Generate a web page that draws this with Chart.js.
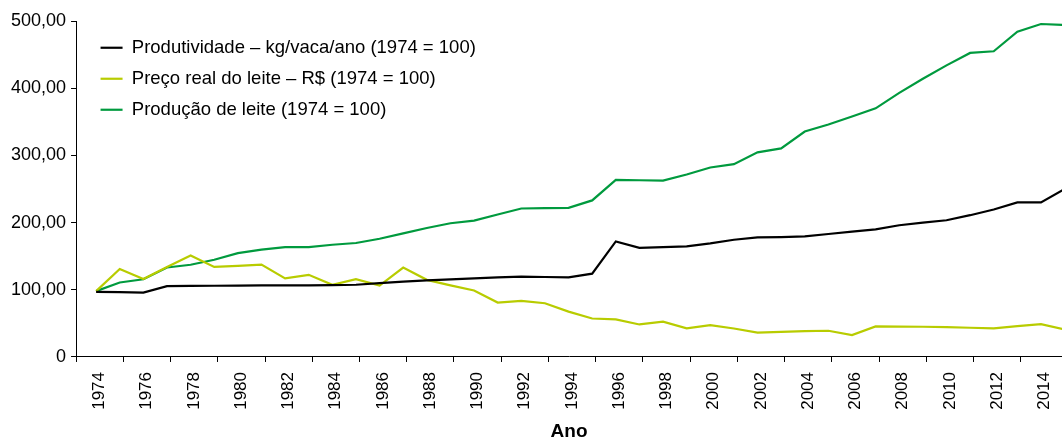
<!DOCTYPE html>
<html>
<head>
<meta charset="utf-8">
<script src="https://cdn.jsdelivr.net/npm/chart.js@4.4.1/dist/chart.umd.min.js"></script>
<style>
  html, body { margin: 0; padding: 0; background: #ffffff; overflow: hidden; }
  #wrap { width: 1062px; height: 439px; }
</style>
</head>
<body>
<div id="wrap"><canvas id="c" width="1062" height="439"></canvas></div>
<script>
// ---- data ----
const years = [1974, 1975, 1976, 1977, 1978, 1979, 1980, 1981, 1982, 1983,
               1984, 1985, 1986, 1987, 1988, 1989, 1990, 1991, 1992, 1993,
               1994, 1995, 1996, 1997, 1998, 1999, 2000, 2001, 2002, 2003,
               2004, 2005, 2006, 2007, 2008, 2009, 2010, 2011, 2012, 2013,
               2014, 2015];

const produtividade = [97, 96.5, 95.8, 105.5, 105.8, 106, 106.2, 106.5, 106.5, 106.5,
                       106.8, 107.5, 110, 112, 114, 115.5, 117, 118.5, 119.5, 119,
                       118.5, 124, 172, 162.5, 163.5, 164.5, 169, 174.5, 178, 178.5,
                       179.5, 183, 186.5, 190, 196, 200, 203.5, 211, 219.5, 230,
                       230, 250];

const precoLeite = [98, 131, 116, 134, 151, 134, 135.5, 137.5, 117, 122.3,
                    107.3, 115.7, 106.3, 133, 114.8, 106.5, 99, 81, 83.5, 80,
                    67.5, 57.3, 56, 48.4, 52.5, 42.5, 47.4, 42.4, 36.4, 37.5,
                    38.5, 39, 32.5, 45.5, 45.3, 45, 44.5, 43.5, 42.5, 46,
                    49, 41];

const producaoLeite = [98, 110.8, 115.7, 133.2, 137.3, 144.7, 154.6, 159.7, 163.6, 163.6,
                       167, 169.6, 176, 184, 192, 199, 203, 212, 221, 221.5,
                       222, 233, 263.5, 263, 262.5, 271.5, 282, 287, 304.5, 310.5,
                       335.5, 346, 358, 370, 393, 414, 434, 452.5, 455, 484,
                       495.5, 494];

const seriesNames = [
  'Produtividade \u2013 kg/vaca/ano (1974 = 100)',
  'Pre\u00e7o real do leite \u2013 R$ (1974 = 100)',
  'Produ\u00e7\u00e3o de leite (1974 = 100)'
];

const xTickLabels = ['1974', '1976', '1978', '1980', '1982', '1984', '1986', '1988', '1990', '1992',
                     '1994', '1996', '1998', '2000', '2002', '2004', '2006', '2008', '2010', '2012', '2014'];
const yTickValues = [0, 100, 200, 300, 400, 500];
const yTickLabels = ['0', '100,00', '200,00', '300,00', '400,00', '500,00'];
const xAxisTitle = 'Ano';

// ---- styling / layout ----
const TICK_SHIFT = 0.85;       // tick marks sit this far (in years) left of each label
const X_MIN = 1973.15;
const X_MAX = 2014.89;

Chart.defaults.font.family = '"Liberation Sans", Arial, Helvetica, sans-serif';
Chart.defaults.color = '#000000';

const toPoints = (vals) => years.map((yr, i) => ({ x: yr, y: vals[i] }));

const legendShift = {
  id: 'legendShift',
  afterLayout(chart) {
    if (chart.legend) {
      chart.legend.left += 12;
      chart.legend.top += 26;
    }
  }
};

const lineStyle = { borderWidth: 2.2, pointRadius: 0, pointHoverRadius: 0, tension: 0, fill: false };

new Chart(document.getElementById('c'), {
  type: 'line',
  data: {
    datasets: [
      Object.assign({ label: seriesNames[0], data: toPoints(produtividade), borderColor: '#000000', backgroundColor: '#000000' }, lineStyle),
      Object.assign({ label: seriesNames[1], data: toPoints(precoLeite), borderColor: '#b8cc00', backgroundColor: '#b8cc00' }, lineStyle),
      Object.assign({ label: seriesNames[2], data: toPoints(producaoLeite), borderColor: '#009a3e', backgroundColor: '#009a3e' }, lineStyle)
    ]
  },
  options: {
    responsive: false,
    animation: false,
    events: [],
    layout: { padding: { left: 6, top: 21, right: 0, bottom: 0 } },
    plugins: {
      tooltip: { enabled: false },
      legend: {
        position: 'chartArea',
        align: 'start',
        labels: {
          usePointStyle: true,
          pointStyle: 'line',
          pointStyleWidth: 22,
          padding: 12.5,
          color: '#000000',
          font: { size: 18.5 }
        }
      }
    },
    scales: {
      x: {
        type: 'linear',
        min: X_MIN,
        max: X_MAX,
        bounds: 'data',
        afterBuildTicks: (axis) => {
          axis.ticks = xTickLabels.map((lbl) => ({ value: Number(lbl) - TICK_SHIFT }));
        },
        ticks: {
          autoSkip: false,
          minRotation: 90,
          maxRotation: 90,
          padding: 10,
          labelOffset: 23.5,
          color: '#000000',
          font: { size: 17 },
          callback: (value, index) => xTickLabels[index]
        },
        grid: {
          display: true,
          drawOnChartArea: false,
          drawTicks: true,
          tickLength: 5,
          color: '#000000',
          lineWidth: 1
        },
        border: { display: true, color: '#000000', width: 1 },
        title: {
          display: true,
          text: xAxisTitle,
          color: '#000000',
          font: { size: 19, weight: 'bold', lineHeight: 0.8 },
          padding: { top: 4, bottom: 0 }
        }
      },
      y: {
        type: 'linear',
        min: 0,
        max: 500,
        afterBuildTicks: (axis) => {
          axis.ticks = yTickValues.map((v) => ({ value: v }));
        },
        ticks: {
          padding: 5,
          color: '#000000',
          font: { size: 18 },
          callback: (value, index) => yTickLabels[index]
        },
        grid: {
          display: true,
          drawOnChartArea: false,
          drawTicks: true,
          tickLength: 5,
          color: '#000000',
          lineWidth: 1
        },
        border: { display: true, color: '#000000', width: 1 }
      }
    }
  },
  plugins: [legendShift]
});
</script>
</body>
</html>
